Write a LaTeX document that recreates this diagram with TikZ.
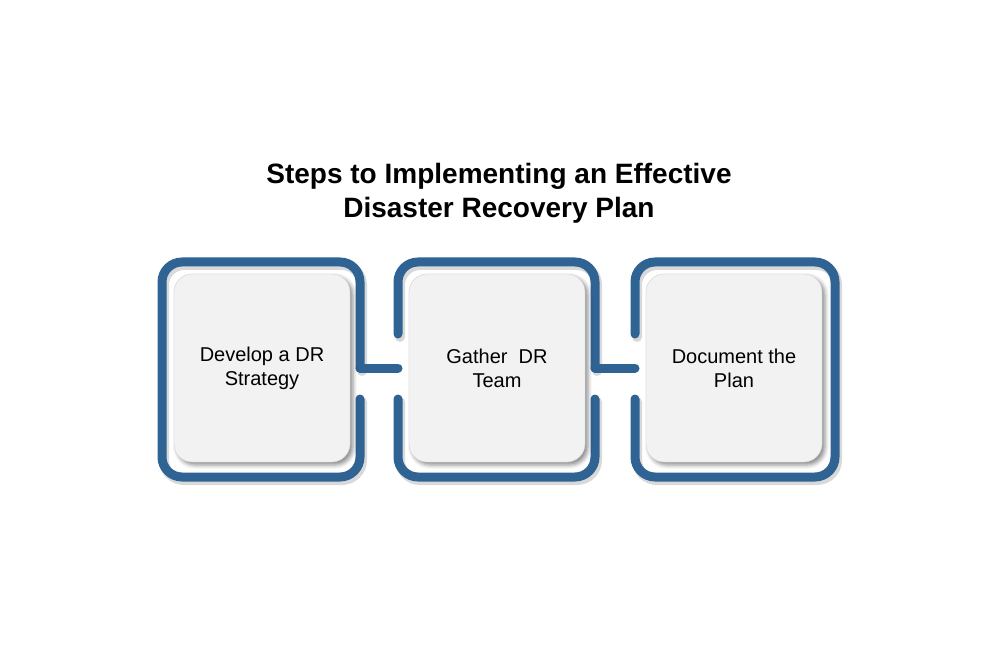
\documentclass[tikz,border=0pt]{standalone}
\usepackage{fontspec}
\setmainfont{Liberation Sans}
\usetikzlibrary{shadows.blur}
\definecolor{frameblue}{HTML}{2E6394}
\definecolor{boxgray}{HTML}{F2F2F2}
\tikzset{
  frame/.style={draw=frameblue, line width=9pt, line cap=round, rounded corners=20pt},
  frameshade/.style={draw=black, opacity=0.15, line width=10pt, line cap=round, rounded corners=20pt, shift={(2pt,-3pt)}},
  link/.style={draw=frameblue, line width=9pt, line cap=round},
  stepbox/.style={rectangle, rounded corners=18pt, fill=boxgray, draw=black!18,
    minimum width=176pt, minimum height=188pt, align=center,
    font=\fontsize{20}{24}\selectfont,
    blur shadow={shadow xshift=3pt, shadow yshift=-3pt, shadow blur radius=4pt, shadow opacity=45}}
}
\begin{document}
\begin{tikzpicture}[x=1pt,y=-1pt]
  \useasboundingbox (0,0) rectangle (998,652);
  \node[align=center, font=\fontsize{28}{34}\bfseries\selectfont] (title) at (499,193)
    {Steps to Implementing an Effective\\Disaster Recovery Plan};
  \foreach \s in {frameshade,frame} {
    \draw[\s] (360,368) -- (360,262) -- (162,262) -- (162,477) -- (360,477) -- (360,399);
    \draw[\s] (398,334) -- (398,262) -- (595,262) -- (595,368);
    \draw[\s] (398,399) -- (398,477) -- (595,477) -- (595,399);
    \draw[\s] (635,334) -- (635,262) -- (835,262) -- (835,477) -- (635,477) -- (635,399);
  }
  \coordinate (j1) at (360,368);
  \coordinate (e1) at (398,368);
  \coordinate (j2) at (595,368);
  \coordinate (e2) at (635,368);
  \draw[link] (j1) -- (e1);
  \draw[link] (j2) -- (e2);
  \node[stepbox] (develop) at (262,368) {Develop a DR\\Strategy};
  \node[stepbox] (gather) at (497,368) {Gather\ \ DR\\Team};
  \node[stepbox] (document) at (734,368) {Document the\\Plan};
\end{tikzpicture}
\end{document}
